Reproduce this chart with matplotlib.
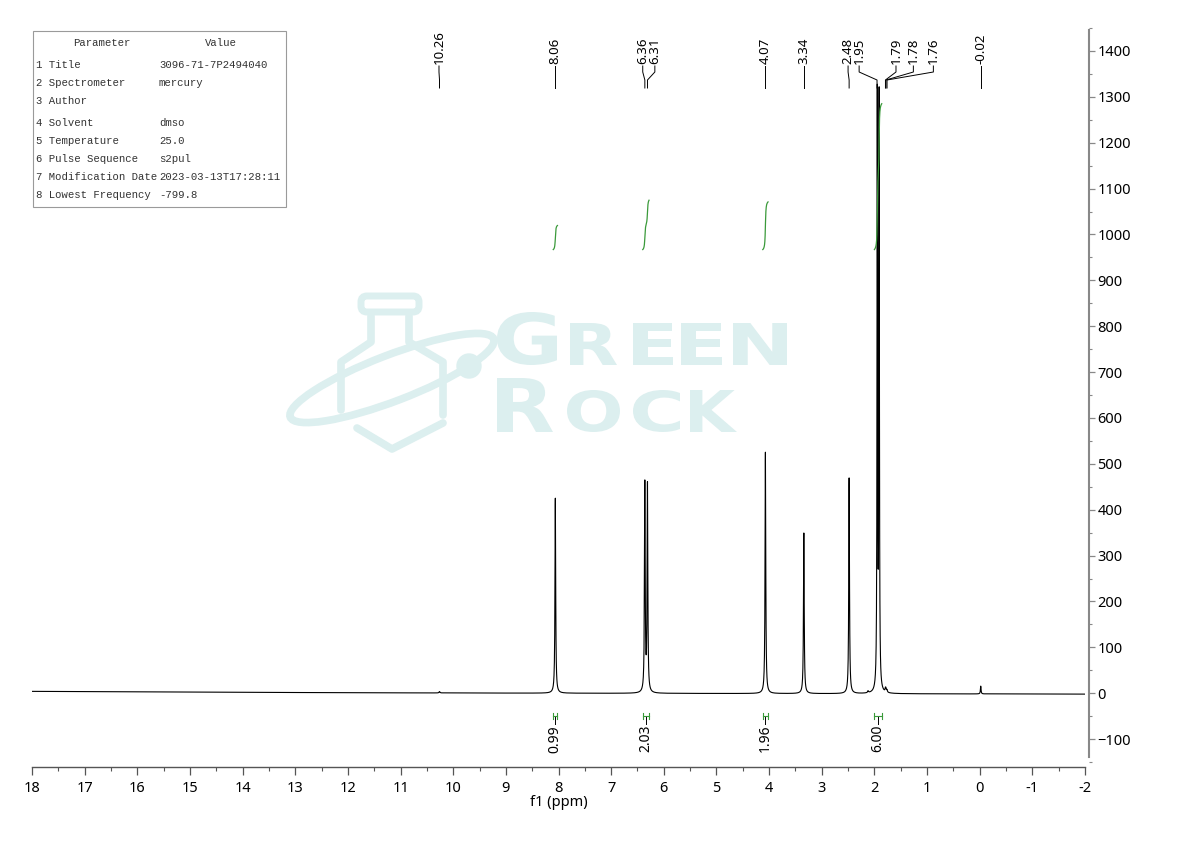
import numpy as np
import matplotlib
matplotlib.use("Agg")
import matplotlib.pyplot as plt
from matplotlib.patches import Ellipse, Circle, FancyBboxPatch, PathPatch
from matplotlib.textpath import TextPath
from matplotlib.font_manager import FontProperties
from matplotlib.transforms import Affine2D

# ---- data ----
peak_ppm = [10.26, 8.06, 6.36, 6.31, 4.07, 3.34, 2.48, 2.12, 1.945, 1.91, 1.79, 1.78, 1.76, -0.02]
peak_height = [3, 425, 454, 450, 526, 350, 470, 4, 1292, 1286, 7, 6, 5, 17]
peak_hwhm = [0.01, 0.008, 0.008, 0.008, 0.008, 0.008, 0.008, 0.01, 0.006, 0.006, 0.008, 0.008, 0.008, 0.007]

baseline_ppm = [-2, 8, 12, 18]
baseline_val = [-2, 0, 1, 4]

label_ppm = [10.26, 8.06, 6.36, 6.31, 4.07, 3.34, 2.48, 1.95, 1.79, 1.78, 1.76, -0.02]
label_text_ppm = [10.27, 8.06, 6.40, 6.17, 4.07, 3.34, 2.50, 2.29, 1.59, 1.26, 0.88, -0.02]

integ_lo = [8.02, 6.28, 4.02, 1.86]
integ_hi = [8.10, 6.40, 4.12, 2.00]
integ_val = [0.99, 2.03, 1.96, 6.00]

table_param = ["1 Title", "2 Spectrometer", "3 Author", "4 Solvent", "5 Temperature",
               "6 Pulse Sequence", "7 Modification Date", "8 Lowest Frequency"]
table_value = ["3096-71-7P2494040", "mercury", "", "dmso", "25.0", "s2pul",
               "2023-03-13T17:28:11", "-799.8"]

# ---- spectrum from the peak list ----
x = np.linspace(-2, 18, 80001)
y = np.interp(x, baseline_ppm, baseline_val)
for p, h, w in zip(peak_ppm, peak_height, peak_hwhm):
    y = y + h * w**2 / ((x - p)**2 + w**2)

W, H = 1190, 841
fig = plt.figure(figsize=(W / 100, H / 100), dpi=100)
fig.patch.set_facecolor("white")

# overlay in pixel coordinates (watermark + parameter table)
ov = fig.add_axes([0, 0, 1, 1], zorder=0)
ov.set_xlim(0, W)
ov.set_ylim(H, 0)
ov.axis("off")

wm = "#dcefef"
flask_left = [(371, 316), (371, 342), (341, 362), (341, 410)]
flask_right = [(409, 316), (409, 342), (443, 362), (443, 415)]
flask_bottom = [(357, 428), (392, 449), (443, 423)]
for pts in (flask_left, flask_right, flask_bottom):
    xs, ys = zip(*pts)
    ov.plot(xs, ys, color=wm, lw=5.5, solid_capstyle="round", solid_joinstyle="round")
ov.add_patch(FancyBboxPatch((364, 299), 52, 10, boxstyle="round,pad=3,rounding_size=6",
                            fill=False, ec=wm, lw=5))
ov.add_patch(Ellipse((392, 378), 218, 46, angle=-21, fill=False, ec=wm, lw=5.5))
ov.add_patch(Circle((469, 366), 12, color=wm))

# watermark letters fitted into their boxes (x0, x1, top, bottom)
wm_letters = [("G", 497, 557, 312, 365), ("R", 570, 617, 323, 365), ("E", 633, 673, 323, 365),
              ("E", 681, 722, 323, 365), ("N", 733, 787, 323, 365),
              ("R", 497, 553, 378, 432), ("O", 567, 620, 390, 432), ("C", 633, 680, 390, 432),
              ("K", 690, 737, 390, 432)]
fp = FontProperties(family="DejaVu Sans", weight="bold")
for ch, x0, x1, top, bot in wm_letters:
    tp = TextPath((0, 0), ch, size=100, prop=fp)
    bb = tp.get_extents()
    sx = (x1 - x0) / bb.width
    sy = (bot - top) / bb.height
    t = Affine2D().translate(-bb.x0, -bb.y0).scale(sx, -sy).translate(x0, bot)
    ov.add_patch(PathPatch(t.transform_path(tp), fc=wm, ec="none"))

# parameter table
ov.add_patch(plt.Rectangle((33, 31), 253, 176, fill=False, ec="#9a9a9a", lw=0.8))
tf = dict(family="Liberation Mono", fontsize=7.7, color="#333333", va="center")
ov.text(102, 43, "Parameter", ha="center", **tf)
ov.text(221, 43, "Value", ha="center", **tf)
row_y = [65, 83, 101, 123, 141, 159, 177, 195]
for ry, pname, pval in zip(row_y, table_param, table_value):
    ov.text(36, ry, pname, ha="left", **tf)
    ov.text(159, ry, pval, ha="left", **tf)

# ---- main spectrum axes ----
L, R, T, B = 32, 1085, 28, 767
ax = fig.add_axes([L / W, 1 - B / H, (R - L) / W, (B - T) / H], zorder=1)
ax.patch.set_alpha(0)
ax.plot(x, y, color="black", lw=0.8)
ax.set_xlim(18, -2)
y0 = (693 - B) / 0.46
y1 = (693 - T) / 0.46
ax.set_ylim(y0, y1)

for s in ("top", "left"):
    ax.spines[s].set_visible(False)
ax.spines["bottom"].set_color("#555555")
ax.spines["bottom"].set_linewidth(1.0)
ax.spines["right"].set_color("#888888")
ax.spines["right"].set_linewidth(1.5)
ax.spines["right"].set_position(("outward", 3))
ax.spines["right"].set_bounds(-139, y1)

ax.set_xticks(np.arange(-2, 19, 1))
ax.set_xticks(np.arange(-1.5, 18, 1), minor=True)
ax.set_xticklabels([f"{v:d}" for v in range(-2, 19)])
ax.yaxis.tick_right()
ax.set_yticks(np.arange(-100, 1401, 100))
ax.set_yticks(np.arange(-150, 1451, 100), minor=True)
ax.tick_params(axis="x", which="major", length=6, width=0.9, color="#555555",
               labelsize=10.5, pad=4)
ax.tick_params(axis="x", which="minor", length=3, width=0.8, color="#555555")
ax.tick_params(axis="y", which="major", length=4, width=0.9, color="#888888",
               labelsize=10.5, pad=2)
ax.tick_params(axis="y", which="minor", length=2.5, width=0.8, color="#888888")
for lab in ax.get_xticklabels() + ax.get_yticklabels():
    lab.set_family("Noto Sans")
ax.set_xlabel("f1 (ppm)", family="Noto Sans", fontsize=10.5, labelpad=-1)

tr = ax.get_xaxis_transform()


def fy(py):
    return (B - py) / (B - T)


# peak labels
for p, tx in zip(label_ppm, label_text_ppm):
    ax.text(tx, fy(64), f"{p:.2f}", rotation=90, ha="center", va="bottom",
            family="Noto Sans", fontsize=9.5, transform=tr, clip_on=False)
    ax.plot([tx, tx, p, p], [fy(66), fy(72), fy(80), fy(88)], color="black", lw=0.7,
            transform=tr, clip_on=False)

# integrals
green = "#3a9a3a"
k = 53.0
for lo, hi, v in zip(integ_lo, integ_hi, integ_val):
    m = (x >= lo) & (x <= hi)
    xs = x[m][::-1]
    ys = y[m][::-1]
    cum = np.cumsum(ys)
    cum = cum / cum[-1]
    ax.plot(xs, 967 + v * k * cum, color=green, lw=0.9)
    c = (lo + hi) / 2
    ax.plot([hi, lo], [fy(716), fy(716)], color=green, lw=0.8, transform=tr)
    for e in (lo, hi):
        ax.plot([e, e], [fy(713), fy(719)], color=green, lw=0.8, transform=tr)
    ax.plot([c, c], [fy(717), fy(724)], color="black", lw=0.7, transform=tr)
    ax.text(c, fy(725), f"{v:.2f}", rotation=90, ha="center", va="top",
            family="Noto Sans", fontsize=10, transform=tr)

fig.savefig("out.png", dpi=100)
